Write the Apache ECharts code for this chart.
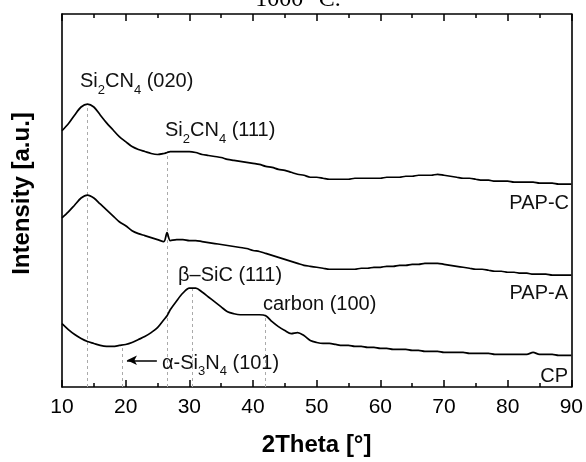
<!DOCTYPE html>
<html><head><meta charset="utf-8">
<script src="https://cdn.jsdelivr.net/npm/echarts@6/dist/echarts.min.js"></script>
<style>html,body{margin:0;padding:0;background:#fff}#c{width:586px;height:462px}</style>
</head><body><div id="c"></div>
<script>
// 2Theta grid (degrees)
const twoTheta = [10,11,12,13,14,15,16,17,18,19,20,21,22,23,24,25,26,26.5,27,28,29,30,31,32,33,34,35,36,37,38,39,40,41,42,43,44,45,46,47,48,49,50,51,52,53,54,55,56,57,58,59,60,61,62,63,64,65,66,67,68,69,70,71,72,73,74,75,76,77,78,79,80,81,82,83,84,85,86,87,88,89,90];
// Intensities (a.u., stacked offsets)
const papC = [259,266,275,283,286,283,275,267,260,253,248,243,240,238,236,235,236,237,238,238,238,238,237,235,234,233,232,230,229,228,227,226,225,223,222,220,219,217,215,214,212,212,211,210,210,210,210,211,211,211,211,211,212,212,212,213,213,214,214,214,215,214,213,212,211,211,210,209,209,208,208,208,207,207,207,207,206,206,206,205,205,205];
const papA = [171,177,184,191,194,191,185,179,173,167,163,158,155,153,151,149,147,156,148,149,149,148,148,147,146,145,144,143,142,141,140,138,137,135,133,131,129,127,125,123,122,121,120,119,119,119,119,119,120,120,121,121,122,122,123,123,124,124,125,125,125,124,123,122,121,120,119,119,118,117,117,116,116,115,115,114,114,114,113,113,113,113];
const cp = [64,58,53,49,46,44,42,41,41,42,43,45,48,51,55,60,68,72,78,87,95,100,100,96,91,86,81,76,74,73,73,73,73,72,66,61,57,54,55,52,47,45,44,44,43,42,42,41,41,40,40,39,39,38,38,38,37,37,36,36,36,35,35,35,35,34,34,34,34,33,33,33,33,33,33,35,33,33,33,32,32,32];
const seriesNames = ['PAP-C','PAP-A','CP'];
// reflection reference lines (2Theta) and the intensity they reach
const refLines = [13.9, 19.4, 26.6, 30.5, 41.9];
const refTops = [286, 43, 237, 100, 73];
const xTickMin = 10, xTickMax = 90, xTickStep = 10;

const zip = arr => twoTheta.map((t, i) => [t, arr[i]]);
const F = 'Liberation Sans, Arial, sans-serif';
const rich = {
  n: {fontSize: 20, fontFamily: F, fill: '#111', lineHeight: 30, verticalAlign: 'middle'},
  s: {fontSize: 13, fontFamily: F, fill: '#111', lineHeight: 30, verticalAlign: 'bottom'}
};
function txt(text, x, y, align, useRich) {
  const st = {text, x, y, align: align, verticalAlign: 'middle', textAlign: align, textVerticalAlign: 'middle', fill: '#111', font: '20px ' + F};
  if (useRich) st.rich = rich;
  return {type: 'text', z: 100, style: st};
}

const chart = echarts.init(document.getElementById('c'));
const axisBase = {
  type: 'value', min: xTickMin, max: xTickMax, interval: xTickStep,
  axisLine: {show: true, onZero: false, lineStyle: {color: '#000', width: 1.6}},
  axisTick: {show: true, inside: true, length: 7, lineStyle: {color: '#000', width: 1.5}},
  minorTick: {show: true, splitNumber: 2, length: 4, lineStyle: {color: '#000', width: 1.5}},
  splitLine: {show: false}, minorSplitLine: {show: false}
};
chart.setOption({
  animation: false,
  backgroundColor: '#fff',
  grid: {left: 62, right: 13, top: 14, bottom: 71, show: false},
  xAxis: [
    Object.assign({}, axisBase, {
      position: 'bottom',
      axisLabel: {show: true, color: '#000', fontSize: 21, fontFamily: F, margin: 10},
      name: '2Theta [°]', nameLocation: 'middle', nameGap: 46,
      nameTextStyle: {fontSize: 24, fontWeight: 'bold', fontFamily: F, color: '#000'}
    }),
    Object.assign({}, axisBase, {position: 'top', axisLabel: {show: false}})
  ],
  yAxis: [
    {type: 'value', min: 0, max: 377, position: 'left',
     axisLine: {show: true, lineStyle: {color: '#000', width: 1.6}},
     axisTick: {show: false}, axisLabel: {show: false}, splitLine: {show: false},
     name: 'Intensity [a.u.]', nameLocation: 'middle', nameGap: 28,
     nameTextStyle: {fontSize: 24, fontWeight: 'bold', fontFamily: F, color: '#000', padding: [0, 0, 0, 14]}},
    {type: 'value', min: 0, max: 377, position: 'right',
     axisLine: {show: true, lineStyle: {color: '#000', width: 1.6}},
     axisTick: {show: false}, axisLabel: {show: false}, splitLine: {show: false}}
  ],
  series: [
    {name: seriesNames[0], type: 'line', data: zip(papC), symbol: 'none', smooth: 0.3,
     lineStyle: {color: '#000', width: 1.7},
     markLine: {silent: true, symbol: ['none', 'none'], animation: false, z: 1,
       label: {show: false},
       lineStyle: {type: [3, 3], color: '#aaaaaa', width: 1},
       data: refLines.map((x, i) => [{coord: [x, 0]}, {coord: [x, refTops[i]]}])}},
    {name: seriesNames[1], type: 'line', data: zip(papA), symbol: 'none', smooth: 0.3,
     lineStyle: {color: '#000', width: 1.7}},
    {name: seriesNames[2], type: 'line', data: zip(cp), symbol: 'none', smooth: 0.3,
     lineStyle: {color: '#000', width: 1.7},
     markLine: {silent: true, symbol: ['arrow', 'none'], symbolSize: [7, 10], animation: false,
       label: {show: false},
       lineStyle: {type: 'solid', color: '#000', width: 1.5},
       data: [[{coord: [20.2, 27]}, {coord: [24.9, 27]}]]}}
  ],
  graphic: [
    {type: 'text', z: 100, style: {text: '1000 °C.', x: 298, y: 12, align: 'center', verticalAlign: 'bottom',
      textAlign: 'center', textVerticalAlign: 'bottom', font: '24px Liberation Serif, Times New Roman, serif', fill: '#000'}},
    txt('{n|Si}{s|2}{n|CN}{s|4}{n| (020)}', 80, 81.5, 'left', true),
    txt('{n|Si}{s|2}{n|CN}{s|4}{n| (111)}', 165, 130.5, 'left', true),
    txt('β–SiC (111)', 178, 275.5, 'left', false),
    txt('carbon (100)', 263, 304, 'left', false),
    txt('{n|α-Si}{s|3}{n|N}{s|4}{n| (101)}', 162, 363, 'left', true),
    txt('PAP-C', 569, 203, 'right', false),
    txt('PAP-A', 568, 293, 'right', false),
    txt('CP', 568, 376, 'right', false)
  ]
});
</script></body></html>
